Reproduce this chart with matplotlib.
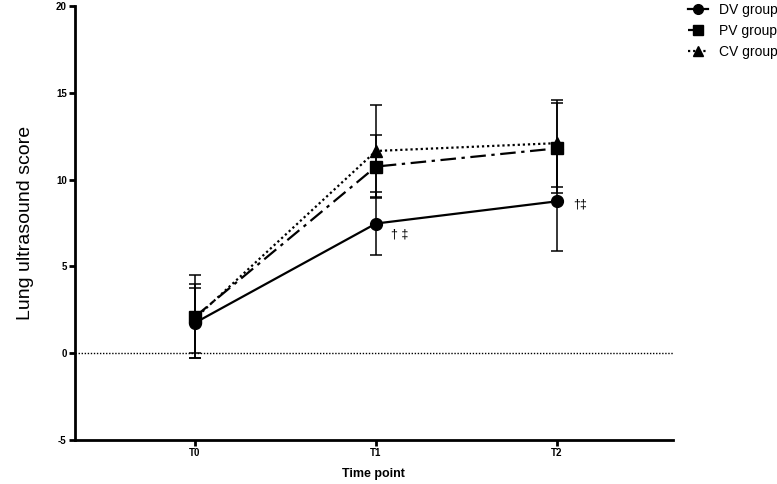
import matplotlib
matplotlib.use("Agg")
from matplotlib import pyplot as plt
from matplotlib.lines import Line2D

plt.rcParams['font.family'] = ['Liberation Sans', 'DejaVu Sans']
plt.rcParams['axes.unicode_minus'] = False

# data (mean and SD at each time point)
timepoints = ["T0", "T1", "T2"]
dv_mean = [1.75, 7.47, 8.75]
dv_sd = [2.0, 1.8, 2.85]
pv_mean = [2.1, 10.75, 11.8]
pv_sd = [2.4, 1.8, 2.6]
cv_mean = [2.0, 11.65, 12.1]
cv_sd = [2.0, 2.65, 2.5]

##########################################

fig = plt.figure(figsize=(7.77, 4.84), dpi=100)
ax = fig.add_axes([0.0965, 0.0909, 0.7695, 0.8967])

x = list(range(len(timepoints)))

#each group: mean line + sd error bars
groups = [("DV group", dv_mean, dv_sd, 'o', '-', 8.5),
          ("PV group", pv_mean, pv_sd, 's', (0, (7, 2.5, 1.5, 2.5)), 8),
          ("CV group", cv_mean, cv_sd, '^', (0, (1, 1.3)), 8.5)]
handles = []
for name, m, s, mk, ls, ms in groups:
  ax.errorbar(x, m, yerr=s, color='black', marker=mk, markersize=ms,
              linestyle=ls, linewidth=1.6, elinewidth=1.1, capsize=4.5,
              capthick=1.1)
  #legend proxy without the error bar
  handles.append(Line2D([], [], color='black', marker=mk, markersize=ms - 1.5,
                        linestyle=ls, linewidth=1.6, label=name))

#zero line
ax.axhline(0, color='black', linestyle=(0, (1, 1.2)), linewidth=1.0)

#significance marks
ax.text(x[1] + 0.085, dv_mean[1] - 0.65, "\u2020 \u2021", fontsize=9,
        va='center', ha='left')
ax.text(x[2] + 0.09, dv_mean[2] - 0.2, "\u2020\u2021", fontsize=9,
        va='center', ha='left')

ax.set_xlim(-0.663, 2.64)
ax.set_ylim(-5, 20)
ax.set_yticks([-5, 0, 5, 10, 15, 20])
ax.set_xticks(x)
ax.set_xticklabels(timepoints)

for side in ['top', 'right']:
  ax.spines[side].set_visible(False)
for side in ['left', 'bottom']:
  ax.spines[side].set_linewidth(2.0)
ax.tick_params(width=2.0, length=4, labelsize=7, pad=2)
for lab in ax.get_xticklabels() + ax.get_yticklabels():
  lab.set_fontweight('bold')

ax.set_ylabel("Lung ultrasound score", fontsize=14, labelpad=16)
ax.set_xlabel("Time point", fontsize=9, fontweight='bold', labelpad=7)

fig.legend(handles=handles, loc='upper left', bbox_to_anchor=(0.886, 0.994),
           frameon=False, fontsize=10, handlelength=1.4, handletextpad=0.8,
           labelspacing=0.5, borderpad=0, borderaxespad=0)

fig.savefig("out.png", dpi=100)
